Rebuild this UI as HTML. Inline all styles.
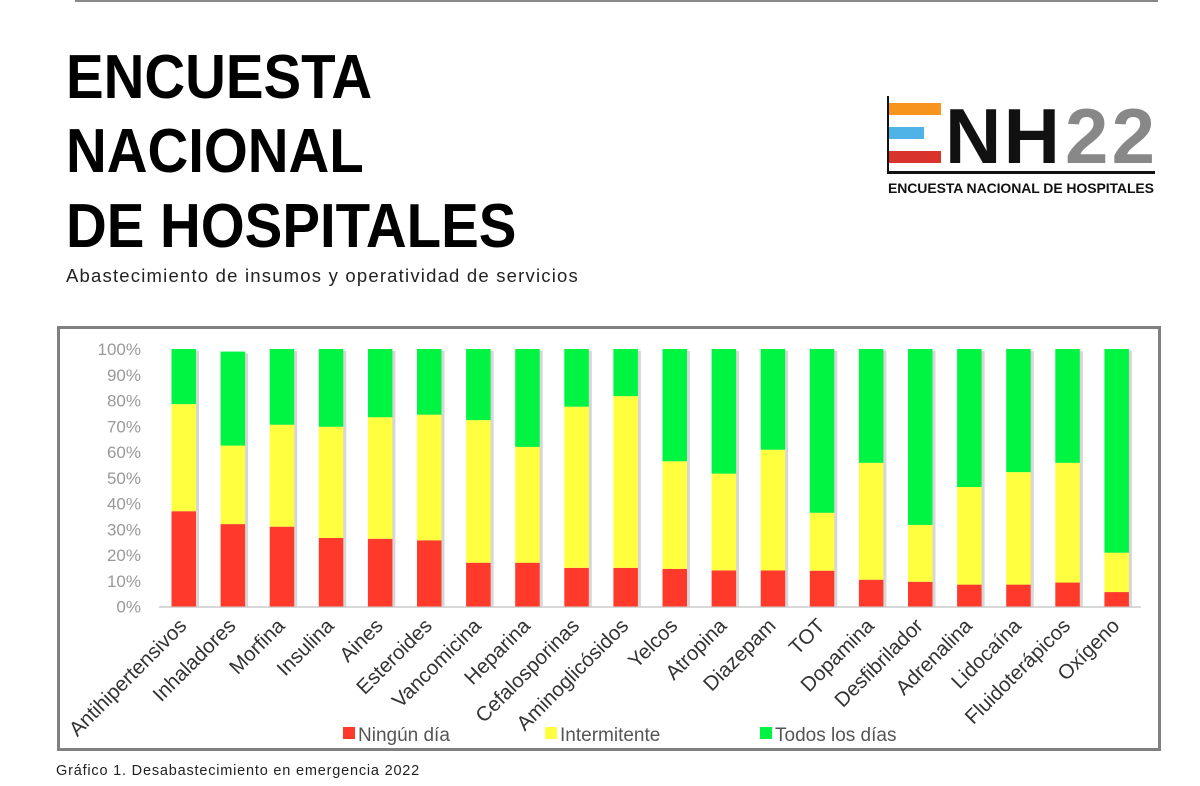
<!DOCTYPE html>
<html><head><meta charset="utf-8"><style>
html,body{margin:0;padding:0;background:#fff;width:1200px;height:786px;overflow:hidden}
body{position:relative;font-family:"Liberation Sans",sans-serif}
.t{position:absolute;left:66px;font-weight:900;font-size:62px;color:#000;line-height:1;letter-spacing:0;font-family:"Liberation Sans",sans-serif;transform-origin:0 0;transform:scaleX(0.91)}
</style></head><body>
<div style="position:absolute;left:75px;top:0;width:1083px;height:2px;background:#888"></div>
<div class="t" style="top:47px">ENCUESTA</div>
<div class="t" style="top:121px">NACIONAL</div>
<div class="t" style="top:196px">DE HOSPITALES</div>
<div style="position:absolute;left:66px;top:265px;font-size:18.5px;letter-spacing:1.2px;color:#222">Abastecimiento de insumos y operatividad de servicios</div>
<svg style="position:absolute;left:870px;top:80px" width="300" height="130">
<rect x="17" y="16" width="2" height="78" fill="#111"/>
<rect x="19" y="23" width="52" height="12" fill="#f7941d"/>
<rect x="19" y="47" width="35" height="12" fill="#4fb3e8"/>
<rect x="19" y="71" width="52" height="12" fill="#d9342b"/>
<rect x="17" y="91" width="268" height="3" fill="#111"/>
<text x="75" y="83" font-family="Liberation Sans" font-weight="900" font-size="78" fill="#111" textLength="115">NH</text>
<text x="195" y="83" font-family="Liberation Sans" font-weight="900" font-size="78" fill="#888" textLength="90">22</text>
<text x="18" y="113" font-family="Liberation Sans" font-weight="700" font-size="14" fill="#111" textLength="266">ENCUESTA NACIONAL DE HOSPITALES</text>
</svg>
<div style="position:absolute;left:57px;top:326px;width:1098px;height:419px;border:3px solid #808080"></div>
<svg id="chart" style="position:absolute;left:0;top:0" width="1200" height="786"></svg>
<div style="position:absolute;left:56px;top:763px;font-size:14.5px;letter-spacing:0.8px;color:#222">Gráfico 1. Desabastecimiento en emergencia 2022</div>
<script>
const categories=["Antihipertensivos","Inhaladores","Morfina","Insulina","Aines","Esteroides","Vancomicina","Heparina","Cefalosporinas","Aminoglicósidos","Yelcos","Atropina","Diazepam","TOT","Dopamina","Desfibrilador","Adrenalina","Lidocaína","Fluidoterápicos","Oxígeno"];
const ningun=[37,32,31,26.6,26.3,25.7,17,17,15,15,14.6,14,14,13.9,10.4,9.6,8.5,8.5,9.3,5.6];
const intermitente=[41.6,30.5,39.6,43.2,47.2,48.8,55.4,45,62.6,66.7,41.8,37.6,46.9,22.5,45.4,22.1,37.9,43.7,46.5,15.3];
const todos=[21.4,36.5,29.4,30.2,26.5,25.5,27.6,38,22.4,18.3,43.6,48.4,39.1,63.6,44.2,68.3,53.6,47.8,44.2,79.1];
const ticks=["0%","10%","20%","30%","40%","50%","60%","70%","80%","90%","100%"];
const seriesNames=["Ningún día","Intermitente","Todos los días"];
const colors=["#ff3a2a","#ffff40","#00f542"];
const NS="http://www.w3.org/2000/svg";
const svg=document.getElementById('chart');
const y=v=>606.5-v*2.575;
const x=i=>171.5+i*49.1;
const bw=24.5;
function el(t,a){const e=document.createElementNS(NS,t);for(const k in a)e.setAttribute(k,a[k]);svg.appendChild(e);return e;}
ticks.forEach((t,i)=>{const e=el('text',{x:141,y:y(i*10)+6,'text-anchor':'end','font-size':17,fill:'#999','font-family':'Liberation Sans'});e.textContent=t;

});
const ax=el('line',{x1:159,x2:1141,y1:607,y2:607,stroke:'#ccc','stroke-width':1.5});


const series=[ningun,intermitente,todos];
categories.forEach((c,i)=>{
 let base=0;
 const total=ningun[i]+intermitente[i]+todos[i];
 const sh=el('rect',{x:x(i)+3,y:y(total)+2,width:bw,height:y(0)-y(total)-2,fill:'#bbb',opacity:0.6});
 
 
 series.forEach((s,k)=>{
  const r=el('rect',{x:x(i),y:y(base+s[i]),width:bw,height:y(base)-y(base+s[i]),fill:colors[k]});
  
  
  base+=s[i];
 });
 const cx=x(i)+bw/2+4, cy=627;
 const t=el('text',{x:cx,y:cy,'text-anchor':'end','font-size':20.5,fill:'#333','font-family':'Liberation Sans',transform:`rotate(-45 ${cx} ${cy})`});
 t.textContent=c;
 
 
});
const lx=[343,545,760];
seriesNames.forEach((n,k)=>{
 const r=el('rect',{x:lx[k],y:727,width:12,height:12,fill:colors[k]});
 
 
 const t=el('text',{x:lx[k]+15,y:741,'font-size':19,fill:'#555','font-family':'Liberation Sans'});
 t.textContent=n;
 
 
});
</script>
</body></html>
